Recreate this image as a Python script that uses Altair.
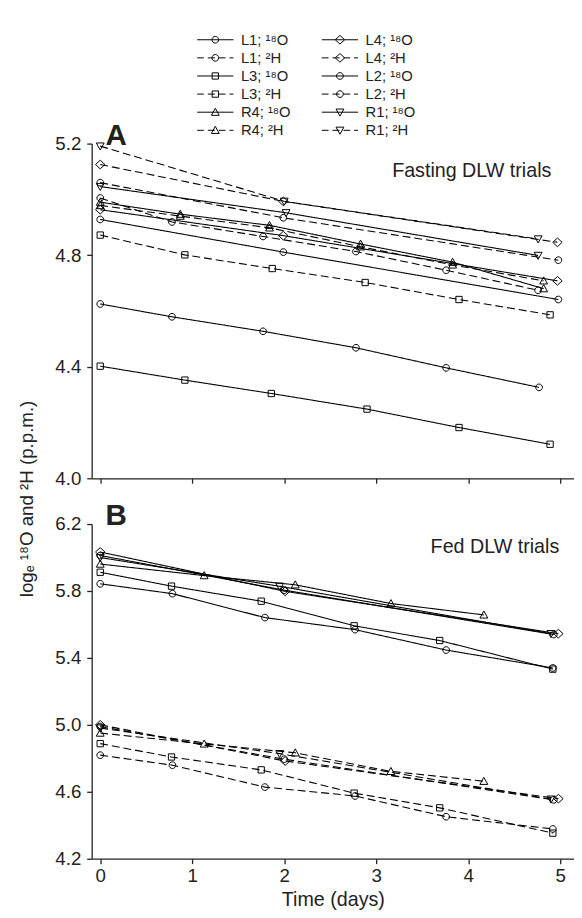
import altair as alt
import pandas as pd

FONT = "Liberation Sans"
INK = "#222222"

# ---------------- data: panel A (fasting DLW trials) ----------------
fast_L1_18O_day = [0, 0.78, 1.77, 2.78, 3.76, 4.77]
fast_L1_18O_val = [4.625, 4.579, 4.527, 4.468, 4.396, 4.326]
fast_L1_2H_day = [0, 0.78, 1.77, 2.78, 3.76, 4.76]
fast_L1_2H_val = [5.005, 4.919, 4.867, 4.813, 4.746, 4.674]
fast_L3_18O_day = [0, 0.92, 1.86, 2.90, 3.90, 4.89]
fast_L3_18O_val = [4.402, 4.352, 4.304, 4.248, 4.182, 4.122]
fast_L3_2H_day = [0, 0.92, 1.87, 2.88, 3.90, 4.89]
fast_L3_2H_val = [4.872, 4.801, 4.752, 4.702, 4.641, 4.586]
fast_R4_18O_day = [0, 0.87, 1.84, 2.83, 3.83, 4.82]
fast_R4_18O_val = [4.990, 4.947, 4.907, 4.840, 4.775, 4.680]
fast_R4_2H_day = [0, 0.87, 1.84, 2.83, 3.83, 4.82]
fast_R4_2H_val = [4.978, 4.940, 4.898, 4.830, 4.765, 4.708]
fast_L4_18O_day = [0, 1.99, 4.97]
fast_L4_18O_val = [4.963, 4.870, 4.708]
fast_L4_2H_day = [0, 1.99, 4.97]
fast_L4_2H_val = [5.125, 4.993, 4.846]
fast_L2_18O_day = [0, 1.99, 4.98]
fast_L2_18O_val = [4.928, 4.811, 4.641]
fast_L2_2H_day = [0, 1.99, 4.98]
fast_L2_2H_val = [5.060, 4.934, 4.782]
fast_R1_18O_day = [0, 2.02, 4.76]
fast_R1_18O_val = [5.046, 4.952, 4.799]
fast_R1_2H_day = [0, 2.00, 4.76]
fast_R1_2H_val = [5.191, 4.993, 4.858]

# ---------------- data: panel B (fed DLW trials) ----------------
fed_L1_18O_day = [0, 0.785, 1.79, 2.77, 3.76, 4.92]
fed_L1_18O_val = [5.843, 5.784, 5.641, 5.569, 5.447, 5.340]
fed_L1_2H_day = [0, 0.785, 1.79, 2.77, 3.76, 4.92]
fed_L1_2H_val = [4.819, 4.759, 4.628, 4.575, 4.451, 4.378]
fed_L3_18O_day = [0, 0.775, 1.75, 2.76, 3.69, 4.92]
fed_L3_18O_val = [5.912, 5.829, 5.739, 5.592, 5.504, 5.333]
fed_L3_2H_day = [0, 0.775, 1.75, 2.76, 3.69, 4.92]
fed_L3_2H_val = [4.888, 4.808, 4.731, 4.592, 4.504, 4.353]
fed_R4_18O_day = [0, 1.13, 2.12, 3.16, 4.17]
fed_R4_18O_val = [5.961, 5.892, 5.837, 5.725, 5.657]
fed_R4_2H_day = [0, 1.13, 2.12, 3.16, 4.17]
fed_R4_2H_val = [4.951, 4.886, 4.833, 4.722, 4.663]
fed_L4_18O_day = [0, 2.01, 4.98]
fed_L4_18O_val = [6.033, 5.798, 5.545]
fed_L4_2H_day = [0, 2.01, 4.98]
fed_L4_2H_val = [5.000, 4.784, 4.559]
fed_L2_18O_day = [0, 2.00, 4.93]
fed_L2_18O_val = [6.012, 5.805, 5.540]
fed_L2_2H_day = [0, 2.00, 4.93]
fed_L2_2H_val = [4.990, 4.795, 4.552]
fed_R1_18O_day = [0, 1.95, 4.90]
fed_R1_18O_val = [6.000, 5.828, 5.545]
fed_R1_2H_day = [0, 1.95, 4.90]
fed_R1_2H_val = [4.981, 4.828, 4.556]

# legend layout: (subject, isotope) in two columns
legend_col0 = [("L1", "18O"), ("L1", "2H"), ("L3", "18O"), ("L3", "2H"), ("R4", "18O"), ("R4", "2H")]
legend_col1 = [("L4", "18O"), ("L4", "2H"), ("L2", "18O"), ("L2", "2H"), ("R1", "18O"), ("R1", "2H")]

ISO_TEXT = {"18O": "\u00b9\u2078O", "2H": "\u00b2H"}

x_ticks = [0, 1, 2, 3, 4, 5]
yA_ticks = [4.0, 4.4, 4.8, 5.2]
yB_ticks = [4.2, 4.6, 5.0, 5.4, 5.8, 6.2]

# ---------------- styles ----------------
CIRCLE = "M0.85,0A0.85,0.85,0,1,1,-0.85,0A0.85,0.85,0,1,1,0.85,0Z"
SQUARE = "M-0.8,-0.8L0.8,-0.8L0.8,0.8L-0.8,0.8Z"
TRI_UP = "M0,-1L1,0.8L-1,0.8Z"
TRI_DOWN = "M-1,-0.8L1,-0.8L0,1Z"
DIAMOND = "M-1.2,0L0,-1.1L1.2,0L0,1.1Z"
MARKER = {"L1": CIRCLE, "L2": CIRCLE, "L3": SQUARE, "R4": TRI_UP, "L4": DIAMOND, "R1": TRI_DOWN}
LEG_LINE = {"18O": "M-4.6,0L4.6,0",
            "2H": "M-4.6,0L-2.9,0M-1.9,0L-0.1,0M0.9,0L2.6,0M3.6,0L4.6,0"}


def label(subj, iso):
    return f"{subj}; {ISO_TEXT[iso]}"


order = legend_col0 + legend_col1
series_domain = [label(s, i) for s, i in order]
plot_shapes = [MARKER[s] for s, i in order]
legend_shapes = [MARKER[s] + LEG_LINE[i] for s, i in order]

g = globals()


def build(prefix):
    rows = []
    for s, i in order:
        days = g[f"{prefix}_{s}_{i}_day"]
        vals = g[f"{prefix}_{s}_{i}_val"]
        for d, v in zip(days, vals):
            rows.append({"series": label(s, i), "iso": i, "day": d, "val": v})
    return pd.DataFrame(rows)


dfA = build("fast")
dfB = build("fed")

W = 490
H = 340
X_DOMAIN = [-0.093, 5.15]


def panel(df, ydom, yticks, bottom, letter, note, note_x, note_y):
    xaxis = alt.Axis(values=x_ticks, format="d", labels=bottom,
                     title="Time (days)" if bottom else None,
                     labelPadding=3, titlePadding=5, titleFontSize=20)
    if bottom:
        yaxis = alt.Axis(values=yticks, format=".1f", title=None, labelPadding=6)
    else:
        yaxis = alt.Axis(values=yticks, format=".1f",
                         title="log\u2091 \u00b9\u2078O and \u00b2H (p.p.m.)",
                         titleX=-66, titleY=360.5, titleAngle=270,
                         titleAlign="center", titleBaseline="middle",
                         labelPadding=6)
    x = alt.X("day:Q", scale=alt.Scale(domain=X_DOMAIN, nice=False, zero=False), axis=xaxis)
    y = alt.Y("val:Q", scale=alt.Scale(domain=ydom, nice=False, zero=False), axis=yaxis)
    base = alt.Chart(df)
    lines = base.mark_line(color="black", strokeWidth=1.1).encode(
        x=x, y=y, detail="series:N",
        strokeDash=alt.StrokeDash("iso:N", scale=alt.Scale(domain=["18O", "2H"],
                                  range=[[1, 0], [8, 4]]), legend=None),
        order="day:Q")
    pts = base.mark_point(filled=False, color="black", strokeWidth=1, size=64, opacity=1).encode(
        x=x, y=y,
        shape=alt.Shape("series:N", scale=alt.Scale(domain=series_domain, range=plot_shapes),
                        legend=None))
    letter_txt = alt.Chart(pd.DataFrame({"t": [letter]})).mark_text(
        align="left", baseline="alphabetic", fontSize=30, fontWeight="bold",
        font=FONT, color=INK).encode(text="t:N", x=alt.value(14), y=alt.value(1))
    note_txt = alt.Chart(pd.DataFrame({"t": [note]})).mark_text(
        align="right", baseline="alphabetic", fontSize=20, font=FONT, color=INK
    ).encode(text="t:N", x=alt.value(note_x), y=alt.value(note_y))
    return alt.layer(lines, pts, letter_txt, note_txt).properties(width=W, height=H)


panelA = panel(dfA, [4.0, 5.2], yA_ticks, False, "A", "Fasting DLW trials", 467, 33.5)
panelB = panel(dfB, [4.2, 6.2], yB_ticks, True, "B", "Fed DLW trials", 475, 29)

leg_rows = []
for col, entries in enumerate([legend_col0, legend_col1]):
    for row, (s, i) in enumerate(entries):
        leg_rows.append({"lseries": label(s, i), "col": col, "row": row})
leg_df = pd.DataFrame(leg_rows)

lx = alt.X("col:Q", scale=alt.Scale(domain=[-0.992, 2.878], nice=False, zero=False), axis=None)
ly = alt.Y("row:Q", scale=alt.Scale(domain=[-0.870, 3.207], reverse=True, nice=False, zero=False),
           axis=None)
leg_sym = alt.Chart(leg_df).mark_point(filled=False, color="black", strokeWidth=1, size=64,
                                       opacity=1).encode(
    x=lx, y=ly,
    shape=alt.Shape("lseries:N", scale=alt.Scale(domain=series_domain, range=legend_shapes),
                    legend=None))
leg_txt = alt.Chart(leg_df).mark_text(align="left", baseline="middle", dx=26, fontSize=15,
                                      font=FONT, color=INK).encode(x=lx, y=ly, text="lseries:N")
legend = alt.layer(leg_sym, leg_txt).properties(width=W, height=75)

chart = alt.vconcat(legend, panelA, panelB, spacing=46.5, bounds="flush").resolve_scale(
    shape="independent", x="independent", y="independent", strokeDash="independent"
).properties(
    padding={"left": 10, "top": 9, "right": 0, "bottom": 4}
).configure_view(strokeWidth=0).configure_axis(
    grid=False, domainColor=INK, domainWidth=1.3, tickColor=INK, tickWidth=1.3, tickSize=5,
    labelColor=INK, labelFont=FONT, labelFontSize=19, titleColor=INK, titleFont=FONT,
    titleFontSize=19, titleFontWeight="normal"
)

chart.save("out.html", embed_options={"renderer": "svg", "actions": False})
